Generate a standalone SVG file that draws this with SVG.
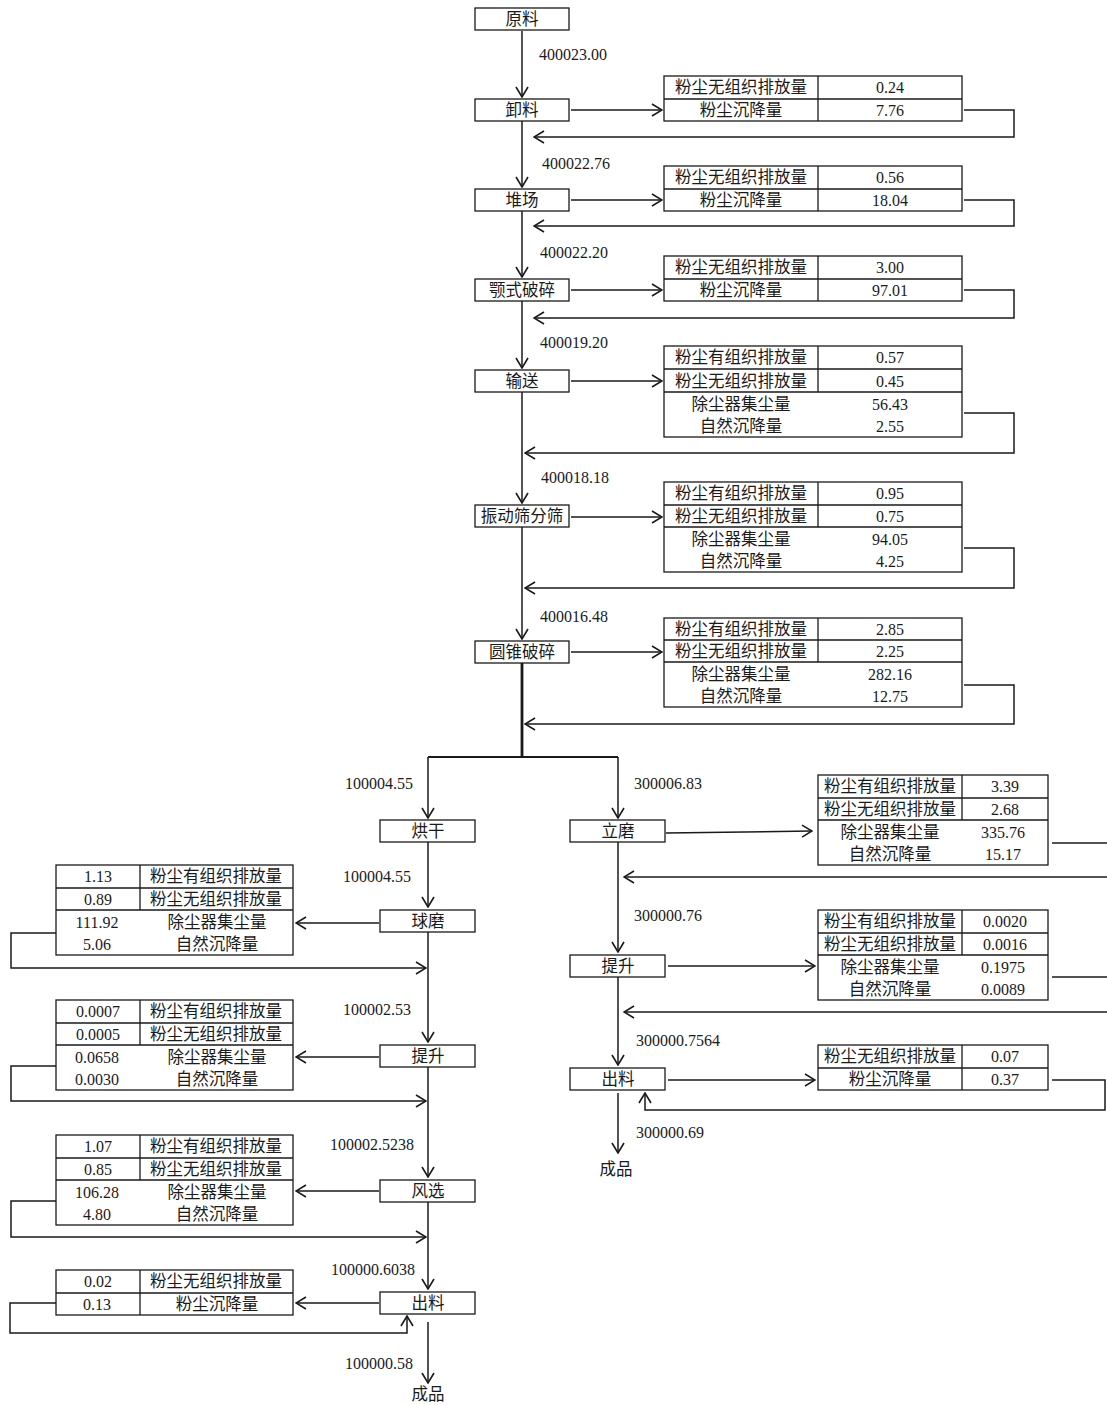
<svg xmlns="http://www.w3.org/2000/svg" width="1107" height="1405" viewBox="0 0 1107 1405">
<style>
.n{fill:#fff;stroke:#1a1a1a;stroke-width:1.3}
.t{fill:none;stroke:#1a1a1a;stroke-width:1.3}
.c{fill:none;stroke:#1a1a1a;stroke-width:1.5}
.k{stroke-width:2.8}
.h{stroke-width:2}
.a{marker-end:url(#arr)}
text{font-family:"Liberation Serif","Noto Sans CJK SC",serif;fill:#1a1a1a}
.z{font-size:16.5px;text-anchor:middle}
.v{font-size:16px;text-anchor:middle}
.l{font-size:16px}
</style>
<defs>
<marker id="arr" viewBox="0 0 12 14" markerWidth="12" markerHeight="14" refX="11" refY="7" orient="auto" markerUnits="userSpaceOnUse">
<path d="M1,1 L11,7 L1,13" fill="none" stroke="#1a1a1a" stroke-width="1.6"/>
</marker>
</defs>
<rect width="1107" height="1405" fill="#fff"/>

<g id="connectors">
<path class="c a" d="M522,31 V97"/>
<path class="c a" d="M522,121 V187"/>
<path class="c a" d="M522,211 V277"/>
<path class="c a" d="M522,301 V368"/>
<path class="c a" d="M522,392 V503"/>
<path class="c a" d="M522,527 V639"/>
<path class="c k" d="M522,663 V757"/>
<path class="c h" d="M428,757 H618"/>
<path class="c a" d="M428,757 V818"/>
<path class="c a" d="M618,757 V818"/>
<path class="c a" d="M571,110 H662"/>
<path class="c a" d="M571,200 H662"/>
<path class="c a" d="M571,290 H662"/>
<path class="c a" d="M571,381 H662"/>
<path class="c a" d="M571,517 H662"/>
<path class="c a" d="M571,652 H662"/>
<path class="c a" d="M964,110 H1014 V137 H534"/>
<path class="c a" d="M964,200 H1014 V226 H534"/>
<path class="c a" d="M964,290 H1014 V318 H534"/>
<path class="c a" d="M964,413 H1014 V453 H525"/>
<path class="c a" d="M964,548 H1014 V588 H525"/>
<path class="c a" d="M964,685 H1014 V724 H525"/>
<path class="c a" d="M428,842 V907"/>
<path class="c a" d="M428,932 V1042"/>
<path class="c a" d="M428,1067 V1177"/>
<path class="c a" d="M428,1202 V1289"/>
<path class="c a" d="M428,1322 V1383"/>
<path class="c a" d="M379,923 H296"/>
<path class="c a" d="M379,1057 H296"/>
<path class="c a" d="M379,1191 H296"/>
<path class="c a" d="M379,1303 H296"/>
<path class="c a" d="M56,933 H11 V968 H426"/>
<path class="c a" d="M56,1066 H11 V1101 H426"/>
<path class="c a" d="M56,1201 H11 V1237 H426"/>
<path class="c a" d="M56,1303 H10 V1333 H407 V1316"/>
<path class="c a" d="M618,842 V952"/>
<path class="c a" d="M618,977 V1065"/>
<path class="c a" d="M618,1093 V1153"/>
<path class="c a" d="M666,833 L812,831"/>
<path class="c a" d="M668,966 H815"/>
<path class="c a" d="M668,1080 H815"/>
<path class="c" d="M1052,843 H1107"/>
<path class="c a" d="M1107,877 H624"/>
<path class="c" d="M1052,977 H1107"/>
<path class="c a" d="M1107,1012 H624"/>
<path class="c a" d="M1052,1080 H1105 V1110 H645 V1093"/>
</g>

<g id="flow-labels">
<text class="l" x="539" y="60">400023.00</text>
<text class="l" x="542" y="169">400022.76</text>
<text class="l" x="540" y="258">400022.20</text>
<text class="l" x="540" y="348">400019.20</text>
<text class="l" x="541" y="483">400018.18</text>
<text class="l" x="540" y="622">400016.48</text>
<text class="l" x="345" y="789">100004.55</text>
<text class="l" x="634" y="789">300006.83</text>
<text class="l" x="343" y="882">100004.55</text>
<text class="l" x="343" y="1015">100002.53</text>
<text class="l" x="330" y="1150">100002.5238</text>
<text class="l" x="331" y="1275">100000.6038</text>
<text class="l" x="345" y="1369">100000.58</text>
<text class="l" x="634" y="921">300000.76</text>
<text class="l" x="636" y="1046">300000.7564</text>
<text class="l" x="636" y="1138">300000.69</text>
</g>

<g id="n-yuanliao"><rect class="n" x="475" y="8" width="94" height="22"/><text class="z" x="522" y="25">原料</text></g>
<g id="n-xieliao"><rect class="n" x="475" y="99" width="94" height="22"/><text class="z" x="522" y="116">卸料</text></g>
<g id="n-duichang"><rect class="n" x="475" y="189" width="94" height="22"/><text class="z" x="522" y="206">堆场</text></g>
<g id="n-eshi"><rect class="n" x="475" y="279" width="94" height="22"/><text class="z" x="522" y="296">颚式破碎</text></g>
<g id="n-shusong"><rect class="n" x="475" y="370" width="94" height="22"/><text class="z" x="522" y="387">输送</text></g>
<g id="n-zhendong"><rect class="n" x="475" y="505" width="94" height="22"/><text class="z" x="522" y="522">振动筛分筛</text></g>
<g id="n-yuanzhui"><rect class="n" x="475" y="641" width="94" height="22"/><text class="z" x="522" y="658">圆锥破碎</text></g>

<g id="t-xieliao"><rect class="t" x="664" y="76" width="298" height="45"/><path class="t" d="M664,99 H962 M818,76 V121"/>
<text class="z" x="741" y="93">粉尘无组织排放量</text><text class="v" x="890" y="93">0.24</text>
<text class="z" x="741" y="116">粉尘沉降量</text><text class="v" x="890" y="116">7.76</text></g>
<g id="t-duichang"><rect class="t" x="664" y="166" width="298" height="45"/><path class="t" d="M664,189 H962 M818,166 V211"/>
<text class="z" x="741" y="183">粉尘无组织排放量</text><text class="v" x="890" y="183">0.56</text>
<text class="z" x="741" y="206">粉尘沉降量</text><text class="v" x="890" y="206">18.04</text></g>
<g id="t-eshi"><rect class="t" x="664" y="256" width="298" height="45"/><path class="t" d="M664,279 H962 M818,256 V301"/>
<text class="z" x="741" y="273">粉尘无组织排放量</text><text class="v" x="890" y="273">3.00</text>
<text class="z" x="741" y="296">粉尘沉降量</text><text class="v" x="890" y="296">97.01</text></g>
<g id="t-shusong"><rect class="t" x="664" y="346" width="298" height="91"/><path class="t" d="M664,369 H962 M664,392 H962 M818,346 V392"/>
<text class="z" x="741" y="363">粉尘有组织排放量</text><text class="v" x="890" y="363">0.57</text>
<text class="z" x="741" y="387">粉尘无组织排放量</text><text class="v" x="890" y="387">0.45</text>
<text class="z" x="741" y="410">除尘器集尘量</text><text class="v" x="890" y="410">56.43</text>
<text class="z" x="741" y="432">自然沉降量</text><text class="v" x="890" y="432">2.55</text></g>
<g id="t-zhendong"><rect class="t" x="664" y="482" width="298" height="90"/><path class="t" d="M664,505 H962 M664,527 H962 M818,482 V527"/>
<text class="z" x="741" y="499">粉尘有组织排放量</text><text class="v" x="890" y="499">0.95</text>
<text class="z" x="741" y="522">粉尘无组织排放量</text><text class="v" x="890" y="522">0.75</text>
<text class="z" x="741" y="545">除尘器集尘量</text><text class="v" x="890" y="545">94.05</text>
<text class="z" x="741" y="567">自然沉降量</text><text class="v" x="890" y="567">4.25</text></g>
<g id="t-yuanzhui"><rect class="t" x="664" y="618" width="298" height="89"/><path class="t" d="M664,640 H962 M664,662 H962 M818,618 V662"/>
<text class="z" x="741" y="635">粉尘有组织排放量</text><text class="v" x="890" y="635">2.85</text>
<text class="z" x="741" y="657">粉尘无组织排放量</text><text class="v" x="890" y="657">2.25</text>
<text class="z" x="741" y="680">除尘器集尘量</text><text class="v" x="890" y="680">282.16</text>
<text class="z" x="741" y="702">自然沉降量</text><text class="v" x="890" y="702">12.75</text></g>

<g id="n-honggan"><rect class="n" x="380" y="820" width="95" height="22"/><text class="z" x="428" y="837">烘干</text></g>
<g id="n-qiumo"><rect class="n" x="380" y="910" width="95" height="22"/><text class="z" x="428" y="927">球磨</text></g>
<g id="n-tisheng-l"><rect class="n" x="380" y="1045" width="95" height="22"/><text class="z" x="428" y="1062">提升</text></g>
<g id="n-fengxuan"><rect class="n" x="380" y="1180" width="95" height="22"/><text class="z" x="428" y="1197">风选</text></g>
<g id="n-chuliao-l"><rect class="n" x="380" y="1292" width="95" height="22"/><text class="z" x="428" y="1309">出料</text></g>
<g id="n-chengpin-l"><text class="z" x="428" y="1400">成品</text></g>

<g id="t-qiumo"><rect class="t" x="56" y="865" width="237" height="90"/><path class="t" d="M56,888 H293 M56,910 H293 M140,865 V910"/>
<text class="v" x="98" y="882">1.13</text><text class="z" x="216" y="882">粉尘有组织排放量</text>
<text class="v" x="98" y="905">0.89</text><text class="z" x="216" y="905">粉尘无组织排放量</text>
<text class="v" x="97" y="928">111.92</text><text class="z" x="217" y="928">除尘器集尘量</text>
<text class="v" x="97" y="950">5.06</text><text class="z" x="217" y="950">自然沉降量</text></g>
<g id="t-tisheng-l"><rect class="t" x="56" y="1000" width="237" height="90"/><path class="t" d="M56,1023 H293 M56,1045 H293 M140,1000 V1045"/>
<text class="v" x="98" y="1017">0.0007</text><text class="z" x="216" y="1017">粉尘有组织排放量</text>
<text class="v" x="98" y="1040">0.0005</text><text class="z" x="216" y="1040">粉尘无组织排放量</text>
<text class="v" x="97" y="1063">0.0658</text><text class="z" x="217" y="1063">除尘器集尘量</text>
<text class="v" x="97" y="1085">0.0030</text><text class="z" x="217" y="1085">自然沉降量</text></g>
<g id="t-fengxuan"><rect class="t" x="56" y="1135" width="237" height="90"/><path class="t" d="M56,1158 H293 M56,1180 H293 M140,1135 V1180"/>
<text class="v" x="98" y="1152">1.07</text><text class="z" x="216" y="1152">粉尘有组织排放量</text>
<text class="v" x="98" y="1175">0.85</text><text class="z" x="216" y="1175">粉尘无组织排放量</text>
<text class="v" x="97" y="1198">106.28</text><text class="z" x="217" y="1198">除尘器集尘量</text>
<text class="v" x="97" y="1220">4.80</text><text class="z" x="217" y="1220">自然沉降量</text></g>
<g id="t-chuliao-l"><rect class="t" x="56" y="1270" width="237" height="45"/><path class="t" d="M56,1293 H293 M140,1270 V1315"/>
<text class="v" x="98" y="1287">0.02</text><text class="z" x="216" y="1287">粉尘无组织排放量</text>
<text class="v" x="97" y="1310">0.13</text><text class="z" x="217" y="1310">粉尘沉降量</text></g>

<g id="n-limo"><rect class="n" x="570" y="820" width="95" height="22"/><text class="z" x="618" y="837">立磨</text></g>
<g id="n-tisheng-r"><rect class="n" x="570" y="955" width="95" height="22"/><text class="z" x="618" y="972">提升</text></g>
<g id="n-chuliao-r"><rect class="n" x="570" y="1068" width="95" height="22"/><text class="z" x="618" y="1085">出料</text></g>
<g id="n-chengpin-r"><text class="z" x="616" y="1175">成品</text></g>

<g id="t-limo"><rect class="t" x="818" y="775" width="230" height="90"/><path class="t" d="M818,798 H1048 M818,820 H1048 M962,775 V820"/>
<text class="z" x="890" y="792">粉尘有组织排放量</text><text class="v" x="1005" y="792">3.39</text>
<text class="z" x="890" y="815">粉尘无组织排放量</text><text class="v" x="1005" y="815">2.68</text>
<text class="z" x="890" y="838">除尘器集尘量</text><text class="v" x="1003" y="838">335.76</text>
<text class="z" x="890" y="860">自然沉降量</text><text class="v" x="1003" y="860">15.17</text></g>
<g id="t-tisheng-r"><rect class="t" x="818" y="910" width="230" height="90"/><path class="t" d="M818,933 H1048 M818,955 H1048 M962,910 V955"/>
<text class="z" x="890" y="927">粉尘有组织排放量</text><text class="v" x="1005" y="927">0.0020</text>
<text class="z" x="890" y="950">粉尘无组织排放量</text><text class="v" x="1005" y="950">0.0016</text>
<text class="z" x="890" y="973">除尘器集尘量</text><text class="v" x="1003" y="973">0.1975</text>
<text class="z" x="890" y="995">自然沉降量</text><text class="v" x="1003" y="995">0.0089</text></g>
<g id="t-chuliao-r"><rect class="t" x="818" y="1045" width="230" height="45"/><path class="t" d="M818,1068 H1048 M962,1045 V1090"/>
<text class="z" x="890" y="1062">粉尘无组织排放量</text><text class="v" x="1005" y="1062">0.07</text>
<text class="z" x="890" y="1085">粉尘沉降量</text><text class="v" x="1005" y="1085">0.37</text></g>
</svg>
